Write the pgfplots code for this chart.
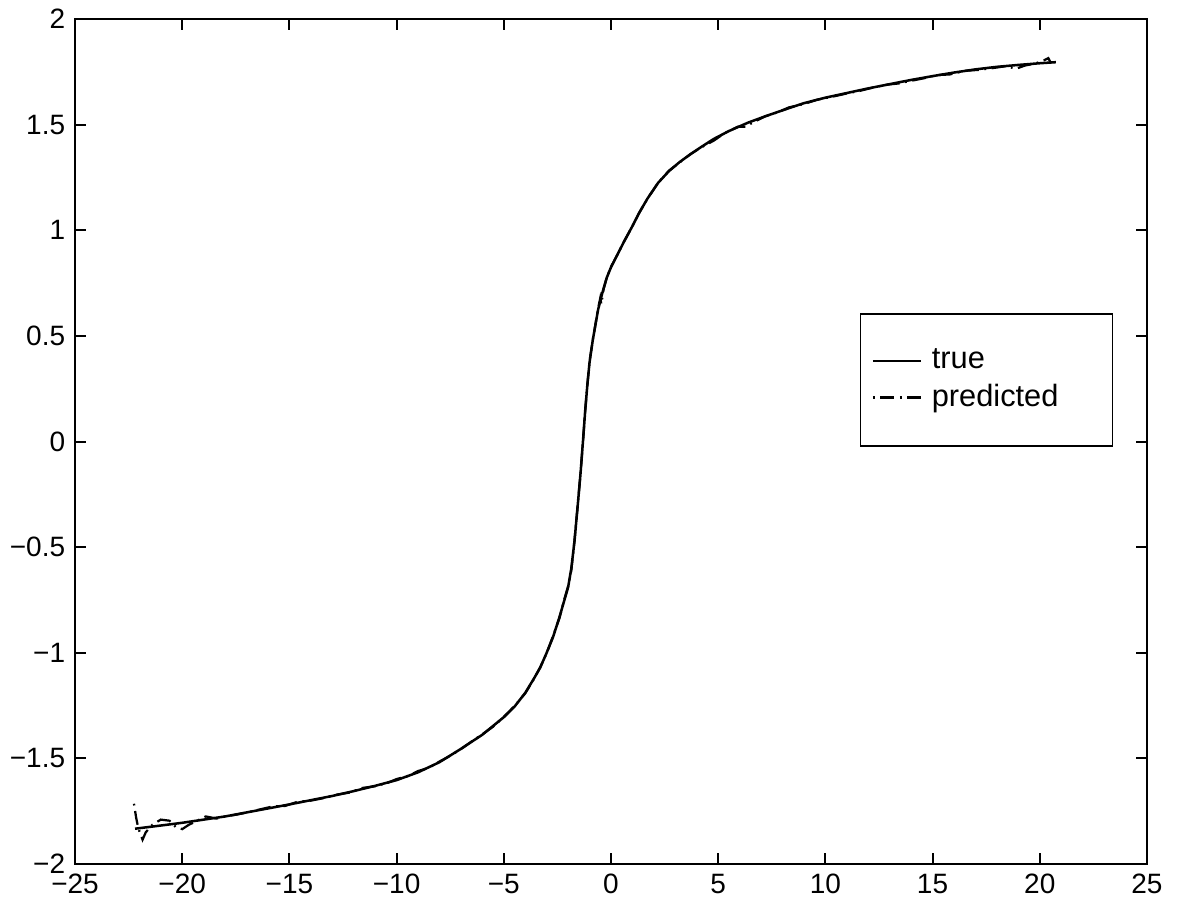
\documentclass[border=0pt]{standalone}
\usepackage{fontspec}
\setmainfont{Liberation Sans}
\usepackage{pgfplots}
\pgfplotsset{compat=1.18}

% true curve
\pgfplotstableread{
x y
-22.2 -1.833
-21 -1.818
-20 -1.805
-19 -1.790
-18 -1.775
-17 -1.756
-16 -1.737
-15 -1.718
-14 -1.698
-13 -1.678
-12 -1.655
-11 -1.630
-10 -1.603
-9 -1.566
-8 -1.518
-7 -1.455
-6 -1.388
-5 -1.305
-4.5 -1.255
-4 -1.19
-3.6 -1.123
-3.3 -1.07
-3 -1.00
-2.7 -0.925
-2.4 -0.83
-2.2 -0.76
-2.0 -0.69
-1.85 -0.60
-1.7 -0.47
-1.55 -0.30
-1.42 -0.15
-1.3 0.01
-1.2 0.15
-1.1 0.27
-1.0 0.375
-0.85 0.48
-0.6 0.625
-0.4 0.705
-0.2 0.775
0 0.825
0.3 0.885
0.6 0.945
1.0 1.02
1.3 1.08
1.7 1.15
2.2 1.225
2.7 1.28
3.2 1.323
3.7 1.36
4.2 1.394
4.8 1.433
5.5 1.47
6.4 1.51
7.2 1.54
8 1.568
9 1.602
10 1.628
11 1.650
12 1.672
13 1.692
14 1.712
15 1.730
16 1.747
17 1.762
18 1.774
19 1.783
20 1.791
20.75 1.796
}\truedata

% predicted curve
\pgfplotstableread{
x y
-22.25 -1.715
-22.15 -1.78
-22.05 -1.83
-21.85 -1.885
-21.7 -1.85
-21.4 -1.815
-21.0 -1.79
-20.6 -1.795
-20.3 -1.825
-20.0 -1.835
-19.7 -1.815
-19.3 -1.795
-18.9 -1.775
-18.4 -1.785
-18.0 -1.775
-17.4 -1.765
-16.8 -1.752
-16.3 -1.74
-15.8 -1.728
-15.2 -1.725
-14.6 -1.705
-14.0 -1.70
-13.4 -1.688
-12.8 -1.672
-12.2 -1.662
-11.6 -1.640
-11.0 -1.632
-10.4 -1.615
-10.0 -1.598
-9.5 -1.585
-9.0 -1.560
-8.5 -1.545
-8.0 -1.515
-7.5 -1.488
-7.0 -1.456
-6.5 -1.420
-6.0 -1.386
-5.5 -1.350
-5.0 -1.304
-4.5 -1.252
-4.0 -1.192
-3.6 -1.125
-3.3 -1.068
-3.0 -1.002
-2.7 -0.92
-2.4 -0.835
-2.2 -0.755
-2.0 -0.685
-1.85 -0.61
-1.7 -0.465
-1.55 -0.30
-1.42 -0.15
-1.3 0.01
-1.2 0.15
-1.1 0.27
-1.0 0.38
-0.85 0.48
-0.6 0.63
-0.5 0.68
-0.45 0.65
-0.35 0.72
-0.2 0.775
0 0.827
0.3 0.885
0.6 0.945
1.0 1.02
1.3 1.08
1.7 1.15
2.2 1.225
2.7 1.282
3.2 1.321
3.7 1.36
4.2 1.392
4.8 1.425
5.3 1.46
5.9 1.49
6.3 1.49
6.6 1.51
7.2 1.54
7.8 1.56
8.3 1.582
9.0 1.598
9.6 1.618
10.3 1.632
11.0 1.648
11.6 1.66
12.3 1.678
12.9 1.69
13.4 1.695
14.0 1.708
14.6 1.72
15.2 1.735
15.8 1.738
16.5 1.755
17.2 1.76
17.8 1.768
18.4 1.777
18.9 1.765
19.3 1.78
19.8 1.79
20.2 1.805
20.4 1.815
20.5 1.795
}\preddata

\begin{document}
\begin{tikzpicture}
\begin{axis}[
  scale only axis,
  width=382.9pt, height=301.8pt,
  xmin=-25, xmax=25, ymin=-2, ymax=2,
  xtick={-25,-20,-15,-10,-5,0,5,10,15,20,25},
  xticklabels={−25,−20,−15,−10,−5,0,5,10,15,20,25},
  ytick={-2,-1.5,-1,-0.5,0,0.5,1,1.5,2},
  yticklabels={−2,−1.5,−1,−0.5,0,0.5,1,1.5,2},
  tick align=inside,
  major tick length=4pt,
  axis line style={line width=0.9pt},
  every tick/.style={black, line width=0.7pt},
  tick label style={font=\fontsize{10}{12}\selectfont, black},
  legend style={at={(0.732,0.652)}, anchor=north west, draw=black,
    line width=0.6pt, inner xsep=4pt, inner ysep=10.5pt,
    font=\fontsize{11}{13}\selectfont, cells={anchor=west}},
]
  \addplot[black, line width=0.9pt] table {\truedata};
  \addlegendentry{\makebox[60pt][l]{\hspace{1.5pt}true}}
  \addplot[black, line width=0.8pt, dash pattern=on 0.6pt off 2pt on 5pt off 2pt] table {\preddata};
  \addlegendentry{\makebox[60pt][l]{\hspace{1.5pt}predicted}}
\end{axis}
\path ([shift={(-26.8pt,-15.4pt)}]current axis.south west)
  rectangle ([shift={(11.1pt,6.1pt)}]current axis.north east);
\end{tikzpicture}
\end{document}
